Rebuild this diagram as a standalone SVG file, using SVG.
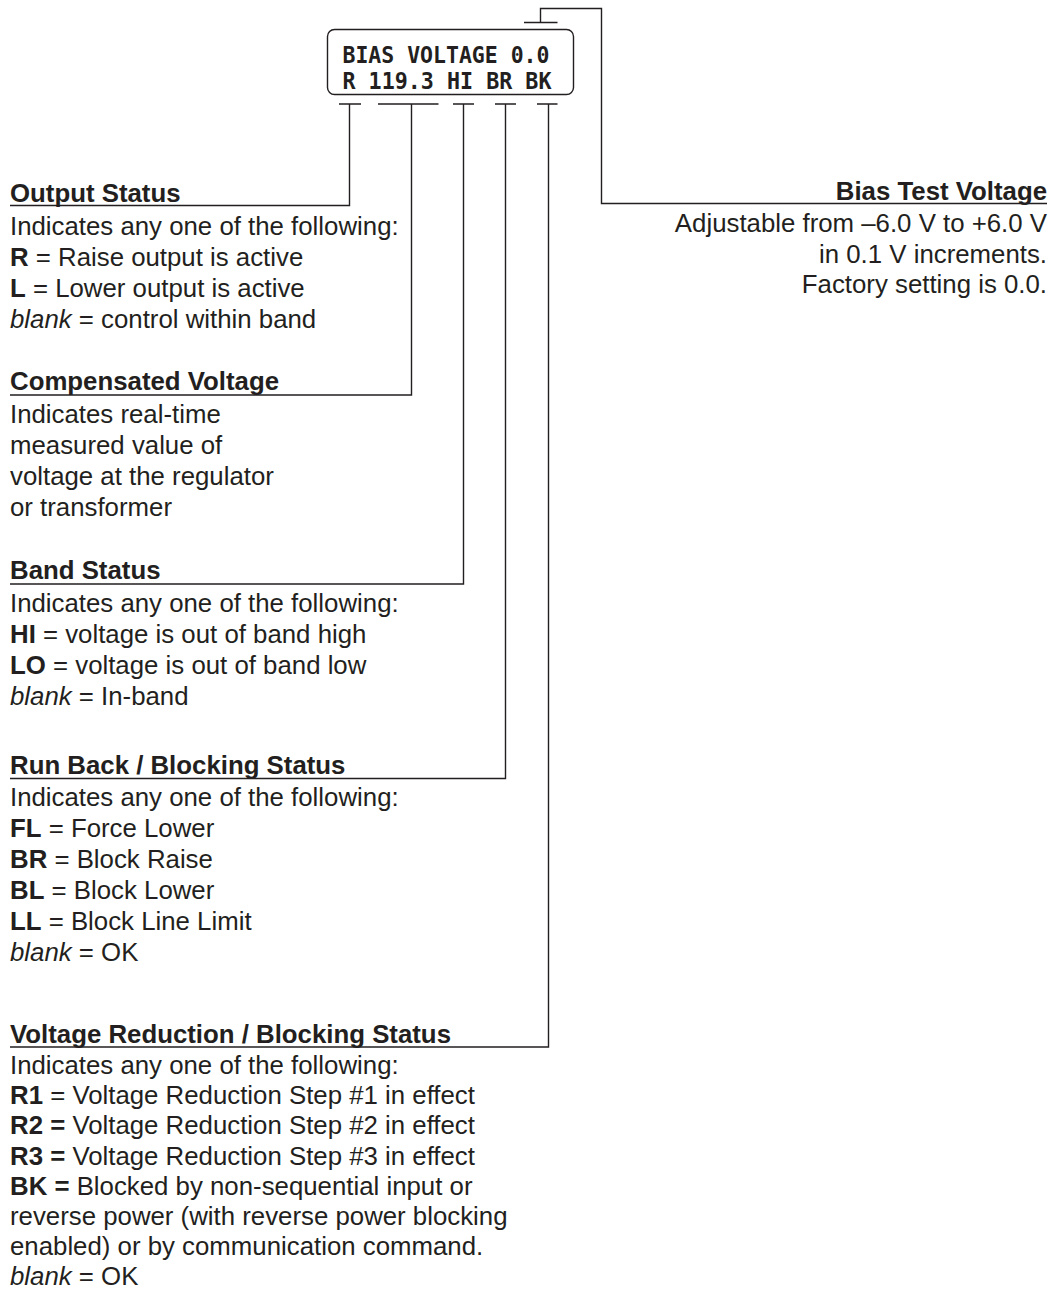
<svg xmlns="http://www.w3.org/2000/svg" width="1053" height="1289" viewBox="0 0 1053 1289">
<style>
  .ln { fill: none; stroke: #231f20; stroke-width: 1.4; }
  .lcd { font-family: "DejaVu Sans Mono", "Liberation Mono", monospace; font-weight: bold; font-size: 23px; fill: #231f20; }
  .h { font-family: "Liberation Sans", Arial, sans-serif; font-weight: bold; font-size: 25.8px; fill: #231f20; }
  .t { font-family: "Liberation Sans", Arial, sans-serif; font-size: 25.8px; fill: #231f20; }
  .b { font-weight: bold; }
  .i { font-style: italic; }
  .r { text-anchor: end; }
</style>
<rect width="1053" height="1289" fill="#ffffff"/>

<g id="display">
  <rect class="ln" x="327.5" y="29.5" width="246" height="65" rx="7"/>
  <text class="lcd" x="342.5" y="63" textLength="207" lengthAdjust="spacingAndGlyphs">BIAS VOLTAGE 0.0</text>
  <text class="lcd" x="342.5" y="89" textLength="209" lengthAdjust="spacingAndGlyphs">R 119.3 HI BR BK</text>
</g>

<g id="connectors">
  <path class="ln" d="M339,104 H361 M349.5,104 V205.5 H10"/>
  <path class="ln" d="M378,104 H438.5 M411.5,104 V395 H10"/>
  <path class="ln" d="M453,104 H474 M463.5,104 V584 H10"/>
  <path class="ln" d="M495,104 H516 M505.5,104 V778.5 H10"/>
  <path class="ln" d="M537,104 H557.5 M548.5,104 V1047 H10"/>
  <path class="ln" d="M524,22.5 H557.5 M540.5,22.5 V8.5 H601.5 V203.5 H1047"/>
</g>

<g id="output-status">
  <text class="h" x="10" y="201.5">Output Status</text>
  <text class="t" x="10" y="234.5">Indicates any one of the following:</text>
  <text class="t" x="10" y="265.5"><tspan class="b">R</tspan> = Raise output is active</text>
  <text class="t" x="10" y="296.5"><tspan class="b">L</tspan> = Lower output is active</text>
  <text class="t" x="10" y="327.5"><tspan class="i">blank</tspan> = control within band</text>
</g>

<g id="compensated-voltage">
  <text class="h" x="10" y="390">Compensated Voltage</text>
  <text class="t" x="10" y="423">Indicates real-time</text>
  <text class="t" x="10" y="454">measured value of</text>
  <text class="t" x="10" y="485">voltage at the regulator</text>
  <text class="t" x="10" y="516">or transformer</text>
</g>

<g id="band-status">
  <text class="h" x="10" y="579">Band Status</text>
  <text class="t" x="10" y="612">Indicates any one of the following:</text>
  <text class="t" x="10" y="643"><tspan class="b">HI</tspan> = voltage is out of band high</text>
  <text class="t" x="10" y="674"><tspan class="b">LO</tspan> = voltage is out of band low</text>
  <text class="t" x="10" y="705"><tspan class="i">blank</tspan> = In-band</text>
</g>

<g id="run-back-status">
  <text class="h" x="10" y="773.5">Run Back / Blocking Status</text>
  <text class="t" x="10" y="806">Indicates any one of the following:</text>
  <text class="t" x="10" y="837"><tspan class="b">FL</tspan> = Force Lower</text>
  <text class="t" x="10" y="868"><tspan class="b">BR</tspan> = Block Raise</text>
  <text class="t" x="10" y="899"><tspan class="b">BL</tspan> = Block Lower</text>
  <text class="t" x="10" y="930"><tspan class="b">LL</tspan> = Block Line Limit</text>
  <text class="t" x="10" y="961"><tspan class="i">blank</tspan> = OK</text>
</g>

<g id="voltage-reduction-status">
  <text class="h" x="10" y="1042.5">Voltage Reduction / Blocking Status</text>
  <text class="t" x="10" y="1074">Indicates any one of the following:</text>
  <text class="t" x="10" y="1104.2"><tspan class="b">R1</tspan> = Voltage Reduction Step #1 in effect</text>
  <text class="t" x="10" y="1134.4"><tspan class="b">R2 =</tspan> Voltage Reduction Step #2 in effect</text>
  <text class="t" x="10" y="1164.6"><tspan class="b">R3 =</tspan> Voltage Reduction Step #3 in effect</text>
  <text class="t" x="10" y="1194.8"><tspan class="b">BK =</tspan> Blocked by non-sequential input or</text>
  <text class="t" x="10" y="1225">reverse power (with reverse power blocking</text>
  <text class="t" x="10" y="1255.2">enabled) or by communication command.</text>
  <text class="t" x="10" y="1285.4"><tspan class="i">blank</tspan> = OK</text>
</g>

<g id="bias-test-voltage">
  <text class="h r" x="1047" y="199.5">Bias Test Voltage</text>
  <text class="t r" x="1047" y="232">Adjustable from –6.0 V to +6.0 V</text>
  <text class="t r" x="1047" y="262.5">in 0.1 V increments.</text>
  <text class="t r" x="1047" y="293">Factory setting is 0.0.</text>
</g>
</svg>
